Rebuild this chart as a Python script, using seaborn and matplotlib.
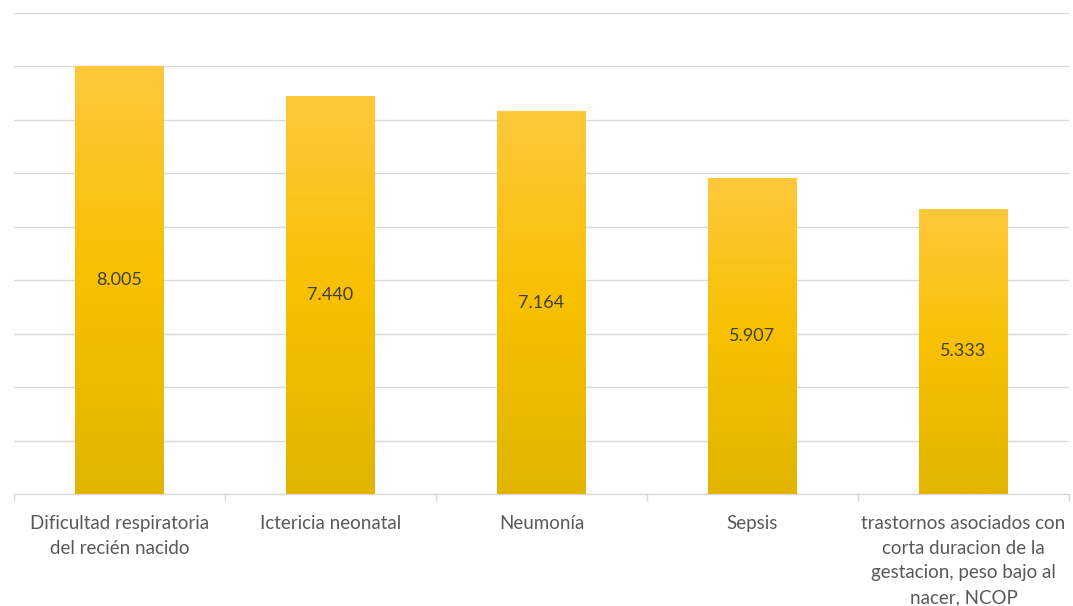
import matplotlib
matplotlib.use("Agg")
import matplotlib.pyplot as plt
import seaborn as sns
import numpy as np
import pandas as pd
from matplotlib.colors import LinearSegmentedColormap

categories = [
    "Dificultad respiratoria\ndel recién nacido",
    "Ictericia neonatal",
    "Neumonía",
    "Sepsis",
    "trastornos asociados con\ncorta duracion de la\ngestacion, peso bajo al\nnacer, NCOP",
]
values = [8005, 7440, 7164, 5907, 5333]
value_labels = ["8.005", "7.440", "7.164", "5.907", "5.333"]

sns.set_theme(style="white")
plt.rcParams['font.family'] = ['Lato', 'DejaVu Sans']

fig = plt.figure(figsize=(10.73, 6.06), dpi=100)
ax = fig.add_axes([14/1073, (606-494)/606, (1069-14)/1073, (494-13)/606])

df = pd.DataFrame({"cat": categories, "val": values})
sns.barplot(data=df, x="cat", y="val", color="#FFC000", width=0.42, ax=ax, zorder=2)

ax.set_ylim(0, 9000)
ax.set_xlim(-0.5, len(categories) - 0.5)
ax.set_yticks(np.arange(0, 9001, 1000))
ax.set_yticklabels([])
ax.yaxis.grid(True, color="#d9d9d9", linewidth=1.0)
ax.set_axisbelow(True)
ax.tick_params(axis="y", length=0)
for s in ["top", "right", "left"]:
    ax.spines[s].set_visible(False)
ax.spines["bottom"].set_color("#d9d9d9")
ax.spines["bottom"].set_linewidth(1.0)
ax.set_xlabel("")
ax.set_ylabel("")

# category boundary ticks
ax.set_xticks(np.arange(-0.5, len(categories), 1.0), minor=True)
ax.tick_params(axis="x", which="minor", length=5, color="#d9d9d9", width=1, bottom=True)
ax.tick_params(axis="x", which="major", length=0, pad=15)
for lbl in ax.get_xticklabels():
    lbl.set_fontsize(13.5)
    lbl.set_color("#595959")
    lbl.set_linespacing(1.55)

# gradient fill on bars
cmap = LinearSegmentedColormap.from_list("g", ["#E2B400", "#F7C000", "#FFC83C"])
grad = np.linspace(0, 1, 256).reshape(-1, 1)
for patch in ax.patches:
    x0, y0 = patch.get_x(), patch.get_y()
    w, h = patch.get_width(), patch.get_height()
    im = ax.imshow(grad, extent=[x0, x0 + w, y0, y0 + h], origin="lower",
                   cmap=cmap, aspect="auto", zorder=3)
    im.set_clip_path(patch)
    patch.set_edgecolor("none")

for i, (v, t) in enumerate(zip(values, value_labels)):
    ax.text(i, v / 2, t, ha="center", va="center", fontsize=13,
            color="#404040", zorder=4)

ax.set_xlim(-0.5, len(categories) - 0.5)
ax.set_ylim(0, 9000)

fig.savefig("out.png", dpi=100)
